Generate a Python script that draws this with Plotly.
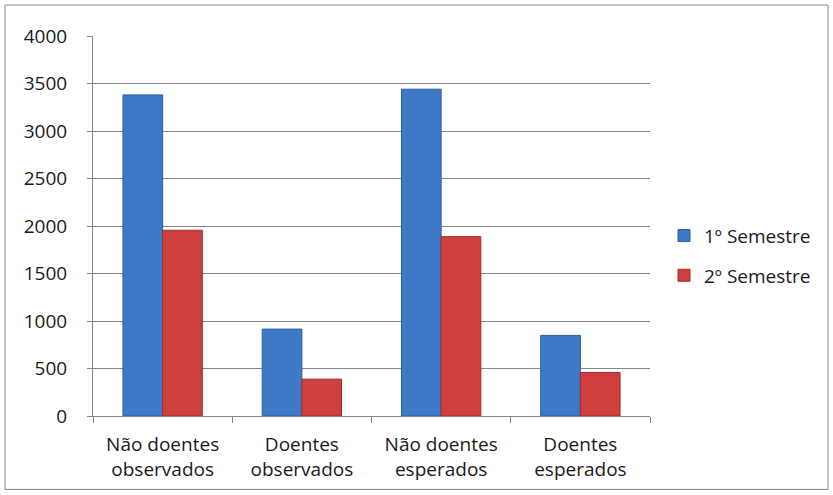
import plotly.graph_objects as go

categories = ["Não doentes<br>observados", "Doentes<br>observados", "Não doentes<br>esperados", "Doentes<br>esperados"]
series_names = ["1º Semestre", "2º Semestre"]
sem1 = [3380, 915, 3440, 848]
sem2 = [1955, 388, 1888, 458]
y_ticks = [0, 500, 1000, 1500, 2000, 2500, 3000, 3500, 4000]

W, H = 833, 495
L, R, T, B = 93, 650, 36, 416.5

fig = go.Figure()
fig.add_trace(go.Bar(x=categories, y=sem1, name=series_names[0], legendgroup="a",
                     marker=dict(color="#3E79C8", line=dict(color="#2F5F9E", width=1))))
fig.add_trace(go.Bar(x=categories, y=sem2, name=series_names[1], legendgroup="b",
                     marker=dict(color="#CF3F3D", line=dict(color="#9E2E2C", width=1))))

pw, ph = R - L, B - T
fig.add_shape(type="rect", xref="paper", yref="paper",
              x0=(5 - L) / pw, x1=(828 - L) / pw,
              y0=(B - 490) / ph, y1=(B - 5) / ph,
              line=dict(color="#868686", width=1), fillcolor="rgba(0,0,0,0)", layer="below")

fig.update_layout(
    width=W, height=H,
    margin=dict(l=L, r=W - R, t=T, b=H - B, pad=0),
    paper_bgcolor="white", plot_bgcolor="white",
    barmode="group", bargap=0.43, bargroupgap=0,
    font=dict(family="Open Sans, Lato, sans-serif", size=19, color="#1a1a1a"),
    showlegend=True,
    legend=dict(x=(664 - L) / pw, y=(B - 256) / ph, xanchor="left", yanchor="middle",
                font=dict(size=19), traceorder="grouped", tracegroupgap=12,
                itemwidth=30, bgcolor="rgba(0,0,0,0)"),
    xaxis=dict(showline=True, linecolor="#868686", linewidth=1,
               ticks="outside", tickson="boundaries", ticklen=6, tickcolor="#868686",
               showgrid=False, tickfont=dict(size=19), ticklabelstandoff=11),
    yaxis=dict(range=[0, 4000], tickvals=y_ticks, showline=True, linecolor="#868686",
               linewidth=1, ticks="outside", ticklen=5, tickcolor="#868686",
               showgrid=True, gridcolor="#868686", gridwidth=1, zeroline=False,
               tickfont=dict(size=19), ticklabelstandoff=16),
)

fig.write_html("out.html")
